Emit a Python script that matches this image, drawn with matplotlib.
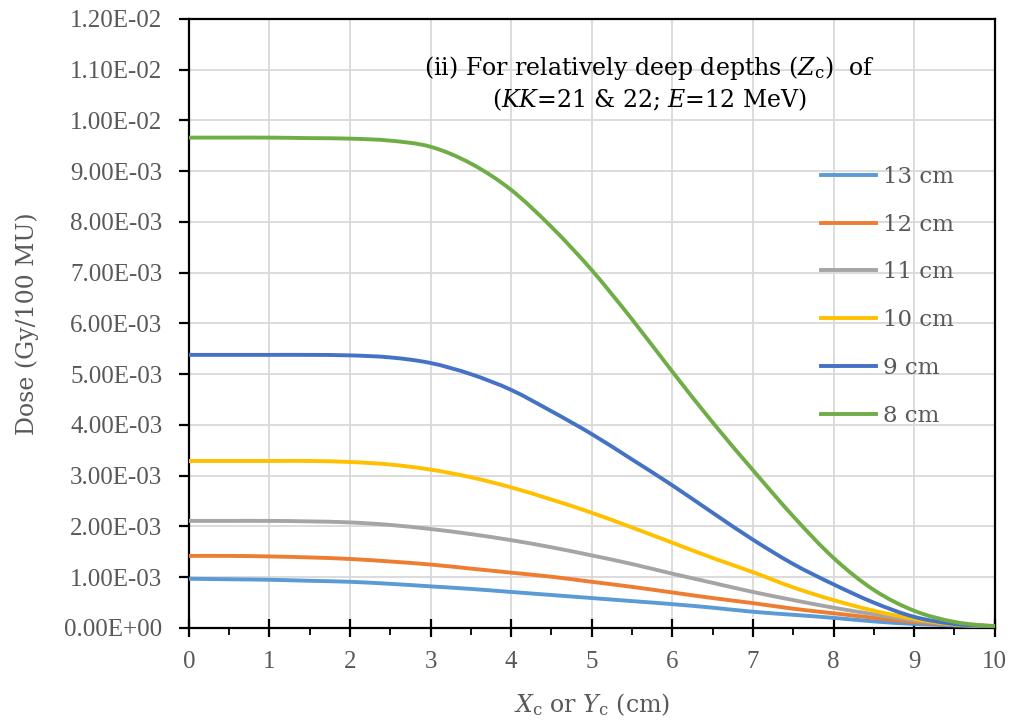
import numpy as np
import matplotlib
matplotlib.use("Agg")
import matplotlib.pyplot as plt
from matplotlib.ticker import FuncFormatter, MultipleLocator
from matplotlib.path import Path
from matplotlib.patches import PathPatch
from matplotlib.lines import Line2D

# Posisi lateral (cm)
x_pos = np.arange(0, 10.01, 0.5)

# Dosis per kedalaman (dalam satuan 1E-03 Gy/100 MU)
dose_13cm = [0.97, 0.96, 0.95, 0.93, 0.91, 0.87, 0.82, 0.77, 0.71, 0.65, 0.59,
             0.53, 0.47, 0.40, 0.32, 0.26, 0.20, 0.13, 0.08, 0.05, 0.03]
dose_12cm = [1.42, 1.42, 1.41, 1.39, 1.36, 1.31, 1.25, 1.17, 1.09, 1.01, 0.91,
             0.81, 0.70, 0.59, 0.49, 0.38, 0.29, 0.20, 0.12, 0.07, 0.04]
dose_11cm = [2.11, 2.11, 2.11, 2.10, 2.08, 2.03, 1.95, 1.85, 1.73, 1.59, 1.43,
             1.26, 1.07, 0.89, 0.71, 0.55, 0.40, 0.27, 0.15, 0.07, 0.04]
dose_10cm = [3.29, 3.29, 3.29, 3.29, 3.27, 3.22, 3.12, 2.97, 2.77, 2.53, 2.27,
             1.98, 1.68, 1.38, 1.10, 0.80, 0.55, 0.34, 0.18, 0.07, 0.03]
dose_9cm = [5.38, 5.38, 5.38, 5.38, 5.37, 5.33, 5.22, 5.00, 4.69, 4.27, 3.82,
            3.32, 2.81, 2.27, 1.74, 1.26, 0.86, 0.50, 0.22, 0.08, 0.03]
dose_8cm = [9.66, 9.66, 9.66, 9.65, 9.64, 9.60, 9.48, 9.15, 8.63, 7.90, 7.05,
            6.08, 5.05, 4.05, 3.11, 2.20, 1.38, 0.75, 0.34, 0.12, 0.03]

labels = ["13 cm", "12 cm", "11 cm", "10 cm", "9 cm", "8 cm"]
series = [dose_13cm, dose_12cm, dose_11cm, dose_10cm, dose_9cm, dose_8cm]
colors = ["#5B9BD5", "#ED7D31", "#A5A5A5", "#FFC000", "#4472C4", "#70AD47"]

plt.rcParams["font.family"] = ["DejaVu Serif"]
plt.rcParams["mathtext.fontset"] = "dejavuserif"
text_color = "#595959"


# Garis halus ala Excel (kurva Bezier melalui titik data)
def smooth_path(x, y):
    p = np.column_stack([x, y])
    n = len(p)
    verts = [p[0]]
    codes = [Path.MOVETO]
    for i in range(n - 1):
        p0 = p[i - 1] if i > 0 else p[i]
        p3 = p[i + 2] if i + 2 < n else p[i + 1]
        c1 = p[i] + (p[i + 1] - p0) / 6
        c2 = p[i + 1] - (p3 - p[i]) / 6
        verts += [c1, c2, p[i + 1]]
        codes += [Path.CURVE4] * 3
    return Path(verts, codes)


fig = plt.figure(figsize=(10.15, 7.24), dpi=100)
ax = fig.add_axes([0.186, 0.1326, 0.794, 0.8414])

handles = []
for y, lab, c in zip(series, labels, colors):
    path = smooth_path(x_pos, np.array(y) * 1e-3)
    ax.add_patch(PathPatch(path, fill=False, edgecolor=c, lw=2.8,
                           capstyle="round", joinstyle="round", zorder=3))
    handles.append(Line2D([], [], color=c, lw=2.8, label=lab))

ax.set_xlim(0, 10)
ax.set_ylim(0, 0.012)
ax.xaxis.set_major_locator(MultipleLocator(1))
ax.xaxis.set_minor_locator(MultipleLocator(0.5))
ax.yaxis.set_major_locator(MultipleLocator(0.001))
ax.yaxis.set_major_formatter(FuncFormatter(lambda v, p: f"{v:.2E}"))

ax.grid(True, which="major", color="#D9D9D9", lw=1.3, zorder=0)
for s in ax.spines.values():
    s.set_linewidth(1.6)
    s.set_color("black")

ax.tick_params(axis="x", which="major", direction="inout", length=13, width=1.6,
               labelcolor=text_color, pad=10)
ax.tick_params(axis="x", which="minor", direction="out", length=5, width=1.3)
ax.tick_params(axis="y", which="major", direction="out", length=7, width=1.6,
               labelcolor=text_color, pad=12)
for lbl in ax.get_xticklabels() + ax.get_yticklabels():
    lbl.set_fontfamily("Liberation Serif")
    lbl.set_fontsize(18)

ax.set_xlabel(r"$X_\mathrm{c}$ or $Y_\mathrm{c}$ (cm)", fontsize=17,
              color=text_color, labelpad=13)
ax.set_ylabel("Dose (Gy/100 MU)", fontsize=17, color=text_color, labelpad=18)

ax.text(5.72, 0.01103, r"(ii) For relatively deep depths ($Z_\mathrm{c}$)  of",
        ha="center", va="center", fontsize=17, color="black")
ax.text(5.72, 0.01040, r"($KK$=21 & 22; $E$=12 MeV)",
        ha="center", va="center", fontsize=17, color="black")

leg = ax.legend(handles=handles, loc="upper left", bbox_to_anchor=(0.785, 0.759),
                frameon=False, fontsize=16.5, handlelength=2.4, handletextpad=0.3,
                labelspacing=1.13, borderpad=0, borderaxespad=0,
                labelcolor=text_color)

fig.savefig("out.png", dpi=100)
